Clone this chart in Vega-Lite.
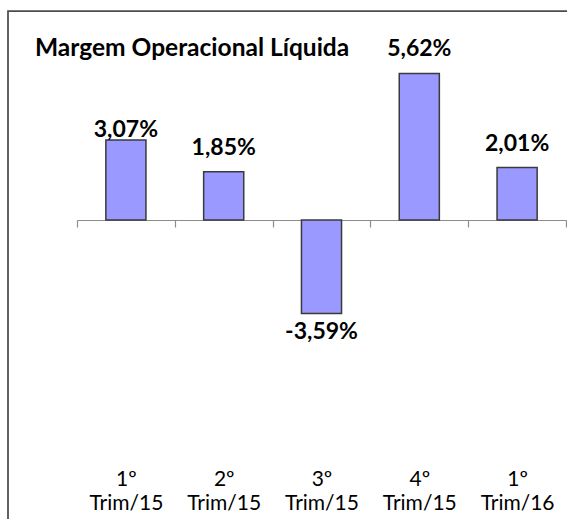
{
  "$schema": "https://vega.github.io/schema/vega-lite/v6.json",
  "width": 559,
  "height": 508,
  "autosize": {"type": "none"},
  "padding": {"left": 8, "top": 11, "right": 0, "bottom": 0},
  "background": "white",
  "config": {
    "view": {"stroke": "#4d4d4d", "strokeWidth": 1.75, "strokeDash": [559, 1067, 508]},
    "font": "Lato"
  },
  "title": {
    "text": "Margem Operacional Líquida",
    "anchor": "start",
    "frame": "group",
    "font": "Lato",
    "fontSize": 24.5,
    "fontWeight": "bold",
    "color": "black",
    "baseline": "alphabetic",
    "offset": -69,
    "dx": 27
  },
  "data": {
    "values": [
      {"q": "1º Trim/15", "v": 3.07, "label": "3,07%"},
      {"q": "2º Trim/15", "v": 1.85, "label": "1,85%"},
      {"q": "3º Trim/15", "v": -3.59, "label": "-3,59%"},
      {"q": "4º Trim/15", "v": 5.62, "label": "5,62%"},
      {"q": "1º Trim/16", "v": 2.01, "label": "2,01%"}
    ]
  },
  "encoding": {
    "x": {
      "field": "q",
      "type": "nominal",
      "sort": null,
      "scale": {"range": [69, 558], "paddingInner": 0, "paddingOuter": 0},
      "axis": {
        "orient": "bottom",
        "offset": -299,
        "domainColor": "#8c8c8c",
        "domainWidth": 1.2,
        "tickColor": "#8c8c8c",
        "tickWidth": 1.2,
        "tickSize": 7,
        "tickBand": "extent",
        "labelExpr": "split(datum.label, ' ')",
        "labelFont": "Lato",
        "labelFontSize": 21,
        "labelColor": "black",
        "labelPadding": 241,
        "labelLineHeight": 24,
        "labelBaseline": "top",
        "labelAngle": 0,
        "title": null,
        "grid": false
      }
    },
    "y": {
      "field": "v",
      "type": "quantitative",
      "scale": {"domain": [-11.465, 8.014], "nice": false, "zero": false},
      "axis": null
    }
  },
  "layer": [
    {
      "mark": {"type": "bar", "width": {"band": 0.41}, "fill": "#9999FF", "stroke": "#3a3a3a", "strokeWidth": 1.5}
    },
    {
      "transform": [{"filter": "datum.v > 0 && datum.q !== '1º Trim/15'"}],
      "mark": {"type": "text", "font": "Lato", "fontSize": 23, "fontWeight": "bold", "color": "black", "baseline": "alphabetic", "dy": -17},
      "encoding": {"text": {"field": "label"}}
    },
    {
      "transform": [{"filter": "datum.q === '1º Trim/15'"}],
      "mark": {"type": "text", "font": "Lato", "fontSize": 23, "fontWeight": "bold", "color": "black", "baseline": "alphabetic", "dy": -3},
      "encoding": {"text": {"field": "label"}}
    },
    {
      "transform": [{"filter": "datum.v < 0"}],
      "mark": {"type": "text", "font": "Lato", "fontSize": 23, "fontWeight": "bold", "color": "black", "baseline": "alphabetic", "dy": 25},
      "encoding": {"text": {"field": "label"}}
    }
  ]
}
